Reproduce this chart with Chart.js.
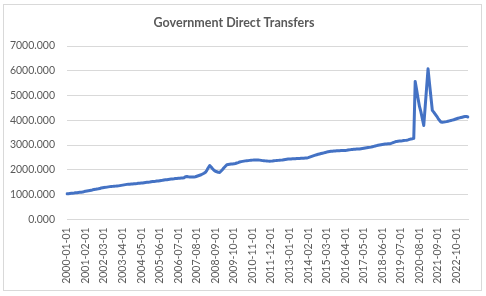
<!DOCTYPE html>
<html>
<head>
<meta charset="utf-8">
<script src="https://cdn.jsdelivr.net/npm/chart.js@4.4.1/dist/chart.umd.min.js"></script>
<style>
  html, body { margin: 0; padding: 0; background: #fff; }
  #wrap { width: 486px; height: 296px; }
</style>
</head>
<body>
<div id="wrap"><canvas id="chart" width="486" height="296"></canvas></div>
<script>
/* Government Direct Transfers, monthly, 2000-01 .. 2023-06.
 * Values, one array per year. */
const START_YEAR = 2000;
const LABEL_EVERY = 13; // the reference shows every 13th month

const y2000 = [1030, 1035, 1042, 1048, 1055, 1060, 1068, 1075, 1082, 1088, 1095, 1100];
const y2001 = [1120, 1130, 1140, 1150, 1160, 1170, 1190, 1200, 1210, 1225, 1230, 1240];
const y2002 = [1265, 1275, 1285, 1290, 1300, 1310, 1320, 1325, 1330, 1335, 1340, 1345];
const y2003 = [1350, 1360, 1370, 1380, 1390, 1400, 1410, 1420, 1420, 1425, 1430, 1435];
const y2004 = [1440, 1445, 1455, 1460, 1465, 1470, 1480, 1490, 1495, 1500, 1505, 1515];
const y2005 = [1525, 1530, 1535, 1545, 1550, 1560, 1570, 1575, 1590, 1600, 1600, 1610];
const y2006 = [1620, 1625, 1630, 1635, 1645, 1650, 1655, 1660, 1665, 1670, 1680, 1720];
const y2007 = [1725, 1715, 1710, 1705, 1705, 1710, 1720, 1740, 1760, 1780, 1800, 1830];
const y2008 = [1860, 1900, 1980, 2080, 2170, 2110, 2040, 1980, 1940, 1920, 1900, 1895];
const y2009 = [1950, 2010, 2080, 2140, 2200, 2210, 2220, 2230, 2235, 2240, 2255, 2275];
const y2010 = [2290, 2315, 2330, 2340, 2350, 2360, 2365, 2370, 2380, 2385, 2390, 2395];
const y2011 = [2400, 2400, 2395, 2390, 2380, 2370, 2365, 2360, 2355, 2350, 2345, 2350];
const y2012 = [2355, 2365, 2370, 2376, 2380, 2385, 2390, 2395, 2405, 2415, 2425, 2433];
const y2013 = [2433, 2440, 2445, 2450, 2450, 2455, 2460, 2460, 2465, 2465, 2470, 2472];
const y2014 = [2474, 2490, 2510, 2530, 2550, 2570, 2590, 2608, 2625, 2640, 2655, 2670];
const y2015 = [2685, 2700, 2715, 2725, 2735, 2745, 2750, 2755, 2760, 2765, 2770, 2772];
const y2016 = [2775, 2778, 2780, 2782, 2790, 2800, 2805, 2815, 2820, 2825, 2830, 2835];
const y2017 = [2837, 2840, 2850, 2860, 2870, 2880, 2890, 2900, 2905, 2915, 2930, 2945];
const y2018 = [2960, 2975, 2990, 3000, 3010, 3020, 3030, 3040, 3045, 3050, 3055, 3065];
const y2019 = [3085, 3110, 3130, 3147, 3155, 3160, 3165, 3170, 3180, 3188, 3195, 3210];
const y2020 = [3230, 3245, 3256, 3270, 5570, 5230, 4880, 4560, 4340, 4060, 3790, 4550];
const y2021 = [5320, 6080, 5500, 4950, 4400, 4330, 4250, 4170, 4080, 4000, 3930, 3920];
const y2022 = [3925, 3935, 3945, 3960, 3975, 3990, 4005, 4020, 4040, 4060, 4080, 4095];
const y2023 = [4110, 4125, 4140, 4150, 4150, 4135];

const values = [].concat(
  y2000, y2001, y2002, y2003, y2004, y2005, y2006, y2007, y2008, y2009, y2010, y2011,
  y2012, y2013, y2014, y2015, y2016, y2017, y2018, y2019, y2020, y2021, y2022, y2023
);

const labels = values.map((_, i) => {
  const yr = START_YEAR + Math.floor(i / 12);
  const mo = String((i % 12) + 1).padStart(2, "0");
  return `${yr}-${mo}-01`;
});

const Y_MIN = 0;
const Y_MAX = 7000;
const Y_STEP = 1000;

const TEXT = "#595959";
const GRID = "#d9d9d9";
const FONT = "Lato, 'Open Sans', sans-serif";

// outer frame like the spreadsheet chart box
const framePlugin = {
  id: "frame",
  beforeDraw(chart) {
    const c = chart.ctx;
    c.save();
    c.fillStyle = "#fff";
    c.fillRect(0, 0, chart.width, chart.height);
    c.strokeStyle = GRID;
    c.lineWidth = 1;
    c.strokeRect(3.5, 4.5, 478, 286);
    c.restore();
  },
};

new Chart(document.getElementById("chart"), {
  type: "line",
  data: {
    labels,
    datasets: [{
      label: "Government Direct Transfers",
      data: values,
      borderColor: "#4472C4",
      backgroundColor: "#4472C4",
      borderWidth: 3,
      pointRadius: 0,
      tension: 0,
      borderJoinStyle: "round",
      borderCapStyle: "round",
    }],
  },
  options: {
    responsive: false,
    animation: false,
    layout: { padding: { left: 0, right: 18, top: 0, bottom: 0 } },
    plugins: {
      legend: { display: false },
      tooltip: { enabled: false },
      title: {
        display: true,
        text: "Government Direct Transfers",
        color: TEXT,
        font: { family: FONT, size: 12.5, weight: "bold" },
        padding: { top: 15, bottom: 16 },
      },
    },
    scales: {
      x: {
        grid: { display: false, drawTicks: false },
        border: { display: true, color: GRID, width: 1 },
        ticks: {
          autoSkip: false,
          minRotation: 90,
          maxRotation: 90,
          padding: 8,
          color: TEXT,
          font: { family: FONT, size: 10.5 },
          callback: function (val, idx) {
            return idx % LABEL_EVERY === 0 ? this.getLabelForValue(val) : null;
          },
        },
        afterFit: (s) => { s.height = 76.7; },
      },
      y: {
        min: Y_MIN,
        max: Y_MAX,
        grid: { color: GRID, lineWidth: 1, drawTicks: false },
        border: { display: false },
        ticks: {
          stepSize: Y_STEP,
          padding: 12,
          color: TEXT,
          font: { family: FONT, size: 10.5 },
          callback: (v) => Number(v).toFixed(3),
        },
        afterFit: (s) => { s.width = 67; },
      },
    },
  },
  plugins: [framePlugin],
});
</script>
</body>
</html>
